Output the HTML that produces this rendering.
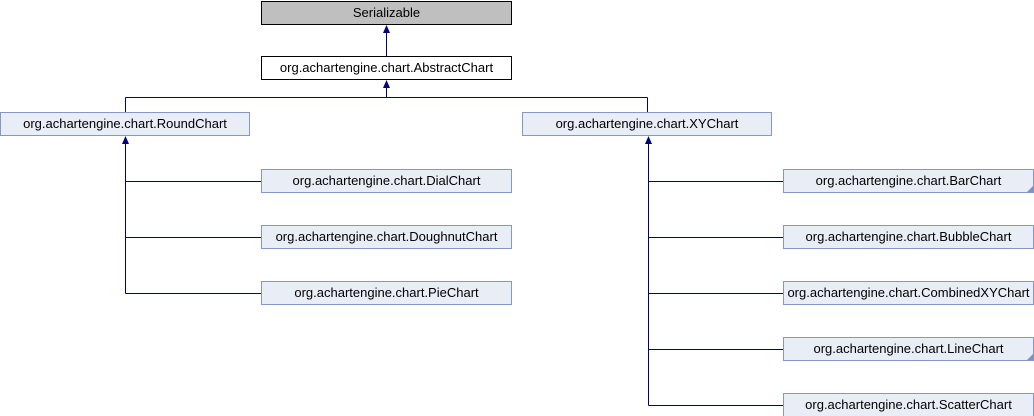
<!DOCTYPE html>
<html><head><style>html,body{margin:0;padding:0;background:#fff}svg{display:block}</style></head>
<body>
<svg width="1034" height="416" xmlns="http://www.w3.org/2000/svg" font-family="Liberation Sans, sans-serif" font-size="13">
<g stroke="#000080" stroke-width="1" fill="none">
<line x1="386.5" y1="32" x2="386.5" y2="56"/>
<line x1="386.5" y1="87" x2="386.5" y2="97.5"/>
<line x1="125.5" y1="97.5" x2="647.5" y2="97.5"/>
<line x1="125.5" y1="97.5" x2="125.5" y2="112"/>
<line x1="647.5" y1="97.5" x2="647.5" y2="112"/>
<line x1="125.5" y1="143" x2="125.5" y2="293.5"/>
<line x1="125.5" y1="181.5" x2="261" y2="181.5"/>
<line x1="125.5" y1="237.5" x2="261" y2="237.5"/>
<line x1="125.5" y1="293.5" x2="261" y2="293.5"/>
<line x1="648.5" y1="143" x2="648.5" y2="405.5"/>
<line x1="648.5" y1="181.5" x2="783" y2="181.5"/>
<line x1="648.5" y1="237.5" x2="783" y2="237.5"/>
<line x1="648.5" y1="293.5" x2="783" y2="293.5"/>
<line x1="648.5" y1="349.5" x2="783" y2="349.5"/>
<line x1="648.5" y1="405.5" x2="783" y2="405.5"/>
</g>
<g fill="#000080">
<polygon points="386.5,25 383,33 390,33"/>
<polygon points="386.5,80 383,88 390,88"/>
<polygon points="125.5,136 122,144 129,144"/>
<polygon points="648.5,136 645,144 652,144"/>
</g>
<rect x="261.5" y="1.5" width="250" height="23" fill="#bfbfbf" stroke="#000"/>
<rect x="261.5" y="56.5" width="250" height="23" fill="#fff" stroke="#000"/>
<g fill="#e8edf6" stroke="#8498c6">
<rect x="0.5" y="112.5" width="249" height="23"/>
<rect x="522.5" y="112.5" width="249" height="23"/>
<rect x="261.5" y="169.5" width="250" height="23"/>
<rect x="261.5" y="225.5" width="250" height="23"/>
<rect x="261.5" y="281.5" width="250" height="23"/>
<rect x="783.5" y="169.5" width="250" height="23"/>
<rect x="783.5" y="225.5" width="250" height="23"/>
<rect x="783.5" y="281.5" width="250" height="23"/>
<rect x="783.5" y="337.5" width="250" height="23"/>
<rect x="783.5" y="393.5" width="250" height="23"/>
</g>
<g fill="#7d92c4">
<polygon points="1033,186 1033,192 1027,192"/>
<polygon points="1033,354 1033,360 1027,360"/>
</g>
<g fill="#000" text-anchor="middle">
<text x="386.5" y="17">Serializable</text>
<text x="386.5" y="72">org.achartengine.chart.AbstractChart</text>
<text x="125" y="128">org.achartengine.chart.RoundChart</text>
<text x="647" y="128">org.achartengine.chart.XYChart</text>
<text x="386.5" y="185">org.achartengine.chart.DialChart</text>
<text x="386.5" y="241">org.achartengine.chart.DoughnutChart</text>
<text x="386.5" y="297">org.achartengine.chart.PieChart</text>
<text x="908.5" y="185">org.achartengine.chart.BarChart</text>
<text x="908.5" y="241">org.achartengine.chart.BubbleChart</text>
<text x="908.5" y="297">org.achartengine.chart.CombinedXYChart</text>
<text x="908.5" y="353">org.achartengine.chart.LineChart</text>
<text x="908.5" y="409">org.achartengine.chart.ScatterChart</text>
</g>
</svg>
</body></html>
